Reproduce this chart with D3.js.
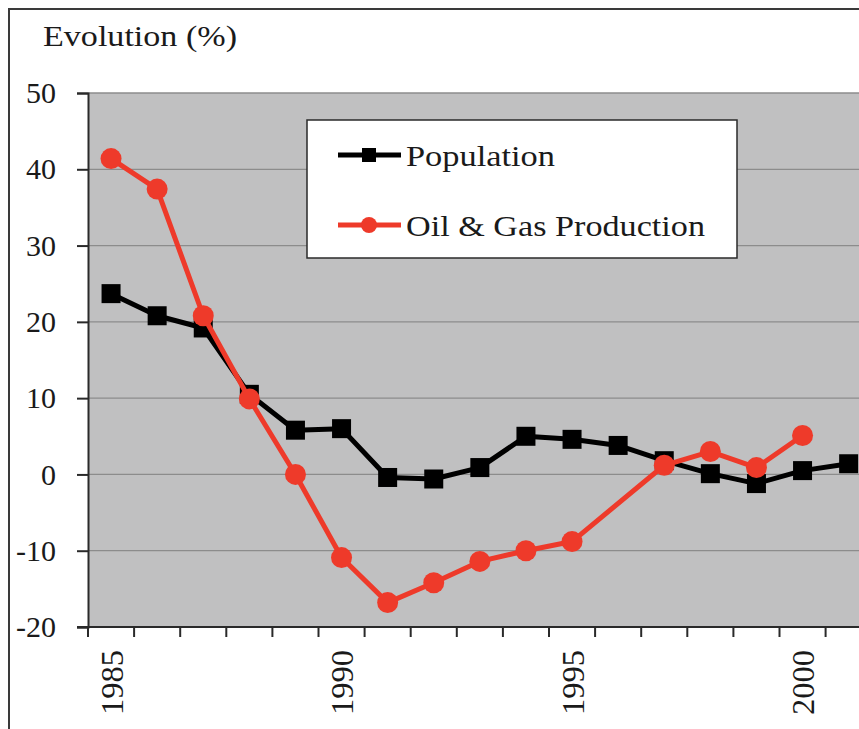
<!DOCTYPE html>
<html><head><meta charset="utf-8">
<script src="https://cdn.jsdelivr.net/npm/d3@7"></script>
<style>body{margin:0;background:#fff}svg{display:block}</style>
</head><body>
<script>
const years = [1985,1986,1987,1988,1989,1990,1991,1992,1993,1994,1995,1996,1997,1998,1999,2000,2001];
const population = [23.7,20.8,19.2,10.5,5.8,6.0,-0.4,-0.6,0.9,5.0,4.6,3.8,1.8,0.1,-1.2,0.5,1.4];
const oilGas = [41.4,37.4,20.8,9.9,0.0,-10.9,-16.8,-14.2,-11.4,-10.0,-8.8,null,1.2,3.0,0.9,5.1,null];
const yTicks = [-20,-10,0,10,20,30,40,50];
const yearLabels = [1985,1990,1995,2000];
const seriesNames = ["Population","Oil & Gas Production"];

(function () {
const W = 859, H = 729;
const FONT = '"Liberation Serif","Times New Roman",Times,serif';
const svg = d3.select("body").append("svg").attr("width", W).attr("height", H);

// outer frame
svg.append("rect").attr("x", 9).attr("y", 9).attr("width", W + 10).attr("height", H + 10)
  .attr("fill", "#fff").attr("stroke", "#3a3a3a").attr("stroke-width", 2);

const pLeft = 88, pTop = 93, pBottom = 627, step = 46.1;
const x = d3.scaleBand().domain(years).range([pLeft, pLeft + step * years.length]).padding(0);
const y = d3.scaleLinear().domain([-20, 50]).range([pBottom, pTop]);
const cx = d => x(d) + x.bandwidth() / 2;

// plot background
svg.append("rect").attr("x", pLeft).attr("y", pTop).attr("width", W - pLeft + 20).attr("height", pBottom - pTop)
  .attr("fill", "#c0c0c1");

// gridlines
svg.append("g").selectAll("line").data(yTicks.filter(t => t > -20)).join("line")
  .attr("x1", pLeft).attr("x2", W + 5).attr("y1", d => y(d)).attr("y2", d => y(d))
  .attr("stroke", "#8c8c8c").attr("stroke-width", 1.3);

// y axis
const yAxis = d3.axisLeft(y).tickValues(yTicks).tickSize(11).tickPadding(21).tickFormat(d => String(d));
const gy = svg.append("g").attr("transform", `translate(${pLeft},0)`).call(yAxis);
gy.attr("font-family", null).attr("font-size", null);
gy.select(".domain").attr("stroke", "#2a2a2a").attr("stroke-width", 2);
gy.selectAll(".tick line").attr("stroke", "#2a2a2a").attr("stroke-width", 2);
gy.selectAll(".tick text").style("font-family", FONT).attr("font-size", 30).attr("fill", "#1a1a1a");

// x axis line and ticks (ticks at band boundaries)
svg.append("line").attr("x1", pLeft - 11).attr("x2", W + 5).attr("y1", pBottom).attr("y2", pBottom)
  .attr("stroke", "#2a2a2a").attr("stroke-width", 2);
svg.append("g").selectAll("line").data(years).join("line")
  .attr("x1", d => x(d)).attr("x2", d => x(d)).attr("y1", pBottom).attr("y2", pBottom + 10)
  .attr("stroke", "#2a2a2a").attr("stroke-width", 2);

// x labels
svg.append("g").selectAll("text").data(yearLabels).join("text")
  .attr("transform", d => `translate(${cx(d) + 1},650) rotate(-90)`)
  .attr("text-anchor", "end").attr("dy", "0.35em")
  .style("font-family", FONT).attr("font-size", 31).attr("fill", "#1a1a1a")
  .attr("textLength", 65).attr("lengthAdjust", "spacingAndGlyphs")
  .text(d => d);

// title
svg.append("text").attr("x", 43).attr("y", 46).style("font-family", FONT).attr("font-size", 30)
  .attr("fill", "#1a1a1a").attr("textLength", 194).attr("lengthAdjust", "spacingAndGlyphs")
  .text("Evolution (%)");

// lines
const popData = years.map((yr, i) => ({yr, v: population[i]}));
const oilData = years.map((yr, i) => ({yr, v: oilGas[i]})).filter(d => d.v !== null);
const line = d3.line().x(d => cx(d.yr)).y(d => y(d.v));

svg.append("path").datum(popData).attr("d", line).attr("fill", "none")
  .attr("stroke", "#000").attr("stroke-width", 5).attr("stroke-linejoin", "round");
svg.append("g").selectAll("rect").data(popData).join("rect")
  .attr("x", d => cx(d.yr) - 9.5).attr("y", d => y(d.v) - 9.5).attr("width", 19).attr("height", 19)
  .attr("fill", "#000");

svg.append("path").datum(oilData).attr("d", line).attr("fill", "none")
  .attr("stroke", "#ee3a2a").attr("stroke-width", 5).attr("stroke-linejoin", "round");
svg.append("g").selectAll("circle").data(oilData).join("circle")
  .attr("cx", d => cx(d.yr)).attr("cy", d => y(d.v)).attr("r", 10.5)
  .attr("fill", "#ee3a2a");

// legend
const lg = svg.append("g");
lg.append("rect").attr("x", 307).attr("y", 120).attr("width", 430).attr("height", 138)
  .attr("fill", "#fff").attr("stroke", "#2a2a2a").attr("stroke-width", 1.5);
const rows = [
  {name: seriesNames[0], color: "#000", shape: "square", yy: 155, len: 149},
  {name: seriesNames[1], color: "#ee3a2a", shape: "circle", yy: 225, len: 299}
];
rows.forEach(r => {
  lg.append("line").attr("x1", 338).attr("x2", 401).attr("y1", r.yy).attr("y2", r.yy)
    .attr("stroke", r.color).attr("stroke-width", 5);
  if (r.shape === "square") {
    lg.append("rect").attr("x", 362).attr("y", r.yy - 7).attr("width", 14).attr("height", 14).attr("fill", r.color);
  } else {
    lg.append("circle").attr("cx", 369).attr("cy", r.yy).attr("r", 8).attr("fill", r.color);
  }
  lg.append("text").attr("x", 406).attr("y", r.yy + 11).style("font-family", FONT).attr("font-size", 30)
    .attr("fill", "#1a1a1a").attr("textLength", r.len).attr("lengthAdjust", "spacingAndGlyphs")
    .text(r.name);
});
})();
</script>
</body></html>
